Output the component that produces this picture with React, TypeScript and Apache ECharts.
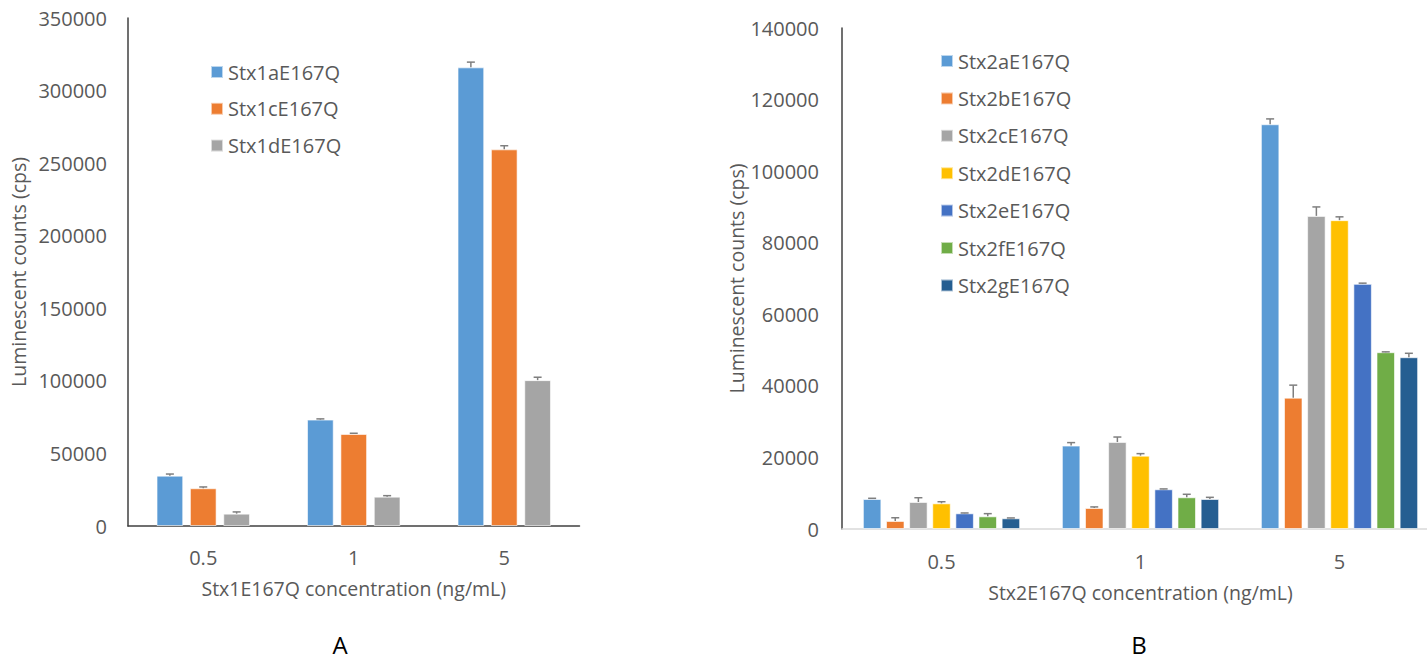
import React, { useEffect, useRef } from "react";
import * as echarts from "echarts";

const categories = ["0.5", "1", "5"];

const stx1Names = ["Stx1aE167Q", "Stx1cE167Q", "Stx1dE167Q"];
const stx1a = [34700, 73300, 316000];
const stx1aErr = [1100, 500, 3600];
const stx1c = [26000, 63400, 259500];
const stx1cErr = [900, 500, 2500];
const stx1d = [8500, 20200, 100500];
const stx1dErr = [1200, 700, 2000];

const stx2Names = ["Stx2aE167Q", "Stx2bE167Q", "Stx2cE167Q", "Stx2dE167Q", "Stx2eE167Q", "Stx2fE167Q", "Stx2gE167Q"];
const stx2a = [8380, 23300, 113100];
const stx2aErr = [200, 840, 1500];
const stx2b = [2240, 5870, 36700];
const stx2bErr = [900, 300, 3500];
const stx2c = [7540, 24300, 87500];
const stx2cErr = [1200, 1400, 2500];
const stx2d = [7170, 20500, 86300];
const stx2dErr = [450, 560, 930];
const stx2e = [4380, 11100, 68500];
const stx2eErr = [100, 100, 200];
const stx2f = [3540, 8860, 49400];
const stx2fErr = [750, 840, 100];
const stx2g = [2990, 8380, 48000];
const stx2gErr = [100, 470, 1100];

const yTicks1 = { min: 0, max: 350000, interval: 50000 };
const yTicks2 = { min: 0, max: 140000, interval: 20000 };

const colors1 = ["#5B9BD5", "#ED7D31", "#A5A5A5"];
const colors2 = ["#5B9BD5", "#ED7D31", "#A5A5A5", "#FFC000", "#4472C4", "#70AD47", "#255E91"];

const FONT = "'Open Sans', sans-serif";
const TXT = "#595959";

export default function App() {
  const ref = useRef<HTMLDivElement>(null);
  useEffect(() => {
    if (!ref.current) return;
    const chart = echarts.init(ref.current, null, { renderer: "svg" });

    const vals1 = [stx1a, stx1c, stx1d];
    const errs1 = [stx1aErr, stx1cErr, stx1dErr];
    const vals2 = [stx2a, stx2b, stx2c, stx2d, stx2e, stx2f, stx2g];
    const errs2 = [stx2aErr, stx2bErr, stx2cErr, stx2dErr, stx2eErr, stx2fErr, stx2gErr];

    const bw1 = 26.7, gap1 = 0.25;
    const bw2 = 18.5, gap2 = 0.25;

    const barSeries = (names: string[], vals: number[][], colors: string[], idx: number, bw: number, gap: number) =>
      names.map((n, i) => ({
        type: "bar",
        name: n,
        xAxisIndex: idx,
        yAxisIndex: idx,
        data: vals[i],
        barWidth: bw,
        barGap: `${gap * 100}%`,
        itemStyle: { color: colors[i], borderColor: "rgba(255,255,255,0.6)", borderWidth: 1 },
      }));

    const errSeries = (vals: number[][], errs: number[][], idx: number, bw: number, gap: number) => {
      const n = vals.length;
      const pitch = bw * (1 + gap);
      const data: number[][] = [];
      vals.forEach((arr, s) => arr.forEach((v, c) => data.push([c, s, v, errs[s][c]])));
      return {
        type: "custom",
        xAxisIndex: idx,
        yAxisIndex: idx,
        z: 5,
        encode: { x: 0, y: 2 },
        data,
        renderItem: (_p: any, api: any) => {
          const c = api.value(0);
          const s = api.value(1);
          const v = api.value(2);
          const e = api.value(3);
          const b = api.coord([c, v]);
          const t = api.coord([c, v + e]);
          const x = b[0] + (s - (n - 1) / 2) * pitch;
          const st = { stroke: "#7F7F7F", lineWidth: 1.5 };
          return {
            type: "group",
            children: [
              { type: "line", shape: { x1: x, y1: b[1], x2: x, y2: t[1] }, style: st },
              { type: "line", shape: { x1: x - 4, y1: t[1], x2: x + 4, y2: t[1] }, style: st },
            ],
          };
        },
      };
    };

    const axisLabel = { color: TXT, fontSize: 20, fontFamily: FONT };
    const nameStyle = { color: TXT, fontSize: 19.5, fontFamily: FONT };
    const plain = (v: number) => String(v);

    chart.setOption({
      animation: false,
      grid: [
        { left: 128, top: 18, width: 451.5, height: 508 },
        { left: 842, top: 28, width: 597, height: 501 },
      ],
      legend: [
        {
          data: stx1Names,
          orient: "vertical",
          left: 205,
          top: 57,
          itemWidth: 12,
          itemHeight: 12,
          itemGap: 16.8,
          icon: "rect",
          textStyle: { color: TXT, fontSize: 20, fontFamily: FONT, lineHeight: 20 },
        },
        {
          data: stx2Names,
          orient: "vertical",
          left: 935,
          top: 46,
          itemWidth: 12,
          itemHeight: 12,
          itemGap: 17.4,
          icon: "rect",
          textStyle: { color: TXT, fontSize: 20, fontFamily: FONT, lineHeight: 20 },
        },
      ],
      xAxis: [
        {
          type: "category",
          gridIndex: 0,
          data: categories,
          axisTick: { show: false },
          axisLine: { lineStyle: { color: "#404040", width: 1.5 } },
          axisLabel: { ...axisLabel, margin: 21 },
          name: "Stx1E167Q concentration (ng/mL)",
          nameLocation: "middle",
          nameGap: 52,
          nameTextStyle: nameStyle,
        },
        {
          type: "category",
          gridIndex: 1,
          data: categories,
          axisTick: { show: false },
          axisLine: { lineStyle: { color: "#D9D9D9", width: 1.5 } },
          axisLabel: { ...axisLabel, margin: 22 },
          name: "Stx2E167Q concentration (ng/mL)",
          nameLocation: "middle",
          nameGap: 53,
          nameTextStyle: nameStyle,
        },
      ],
      yAxis: [
        {
          type: "value",
          gridIndex: 0,
          ...yTicks1,
          axisLine: { show: true, lineStyle: { color: "#404040", width: 1.5 } },
          axisTick: { show: false },
          splitLine: { show: false },
          axisLabel: { ...axisLabel, margin: 21, formatter: plain },
          name: "Luminescent counts (cps)",
          nameLocation: "middle",
          nameGap: 100,
          nameTextStyle: nameStyle,
        },
        {
          type: "value",
          gridIndex: 1,
          ...yTicks2,
          axisLine: { show: true, lineStyle: { color: "#404040", width: 1.5 } },
          axisTick: { show: false },
          splitLine: { show: false },
          axisLabel: { ...axisLabel, margin: 23, formatter: plain },
          name: "Luminescent counts (cps)",
          nameLocation: "middle",
          nameGap: 96,
          nameTextStyle: nameStyle,
        },
      ],
      graphic: [
        { type: "text", x: 340, y: 644, style: { text: "A", fontSize: 24, fontFamily: FONT, fill: "#000", align: "center", verticalAlign: "middle" } },
        { type: "text", x: 1139, y: 644, style: { text: "B", fontSize: 24, fontFamily: FONT, fill: "#000", align: "center", verticalAlign: "middle" } },
      ],
      series: [
        ...barSeries(stx1Names, vals1, colors1, 0, bw1, gap1),
        ...barSeries(stx2Names, vals2, colors2, 1, bw2, gap2),
        errSeries(vals1, errs1, 0, bw1, gap1),
        errSeries(vals2, errs2, 1, bw2, gap2),
      ],
    });
    return () => chart.dispose();
  }, []);
  return (
    <div style={{ position: "absolute", left: 0, top: 0, width: 1427, height: 661, background: "#fff", overflow: "hidden" }}>
      <div ref={ref} style={{ position: "absolute", left: 0, top: 0, width: 1450, height: 661 }} />
    </div>
  );
}
